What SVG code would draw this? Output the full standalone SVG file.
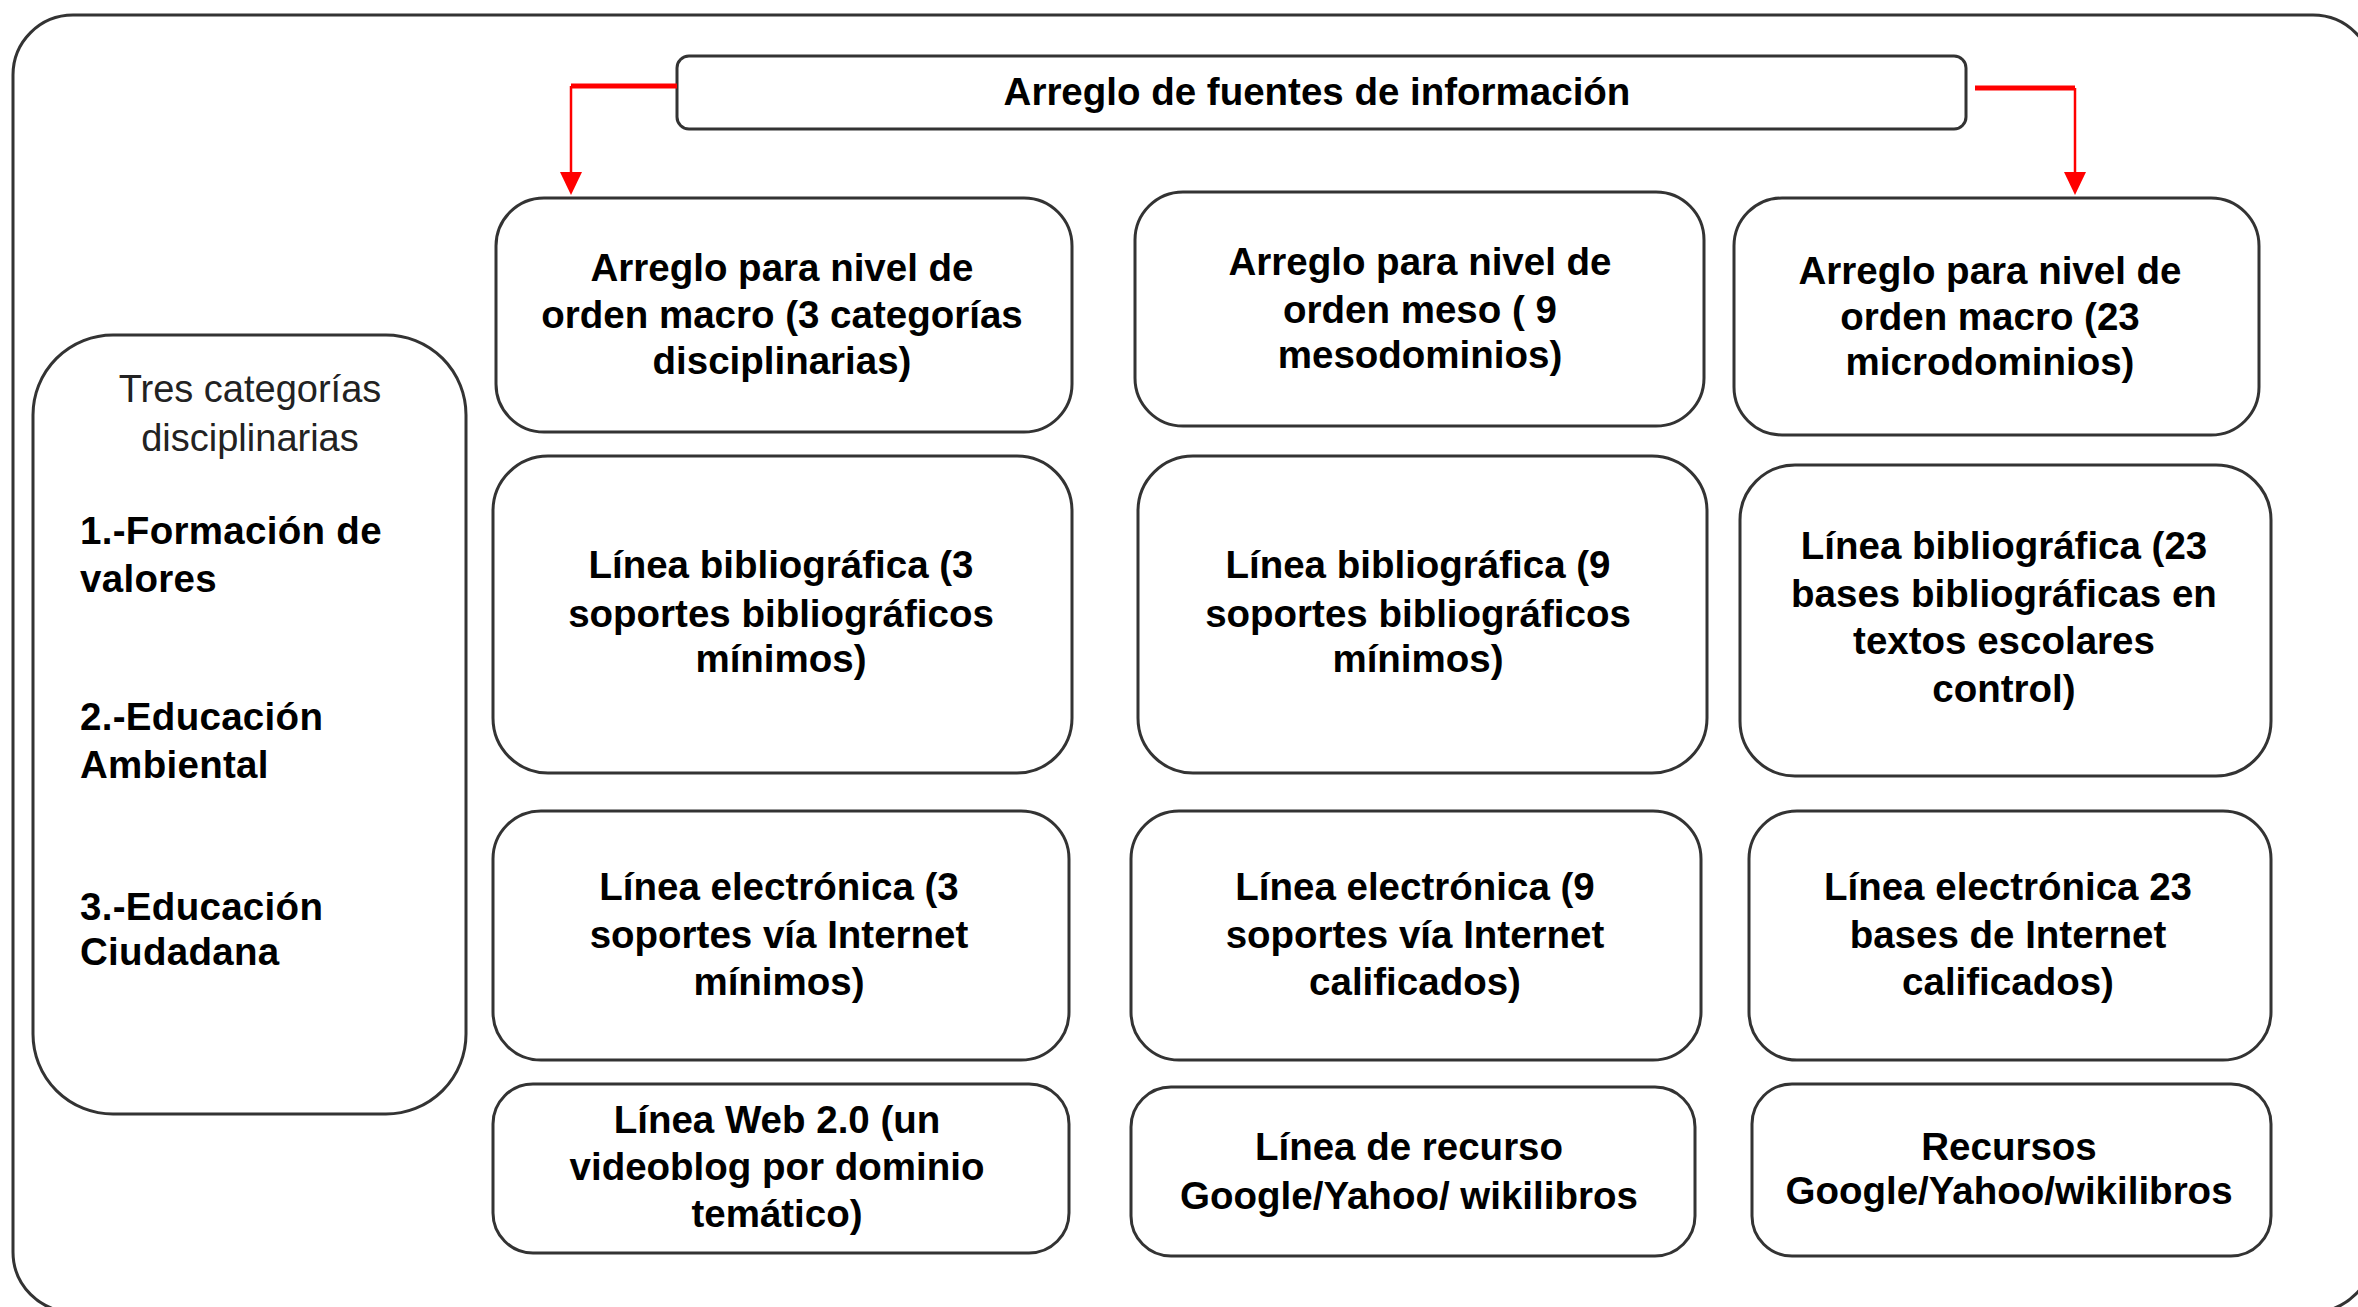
<svg xmlns="http://www.w3.org/2000/svg" width="2358" height="1307" viewBox="0 0 2358 1307">
<style>
.frame{fill:#fff;stroke:#333;stroke-width:3}
.box{fill:#fff;stroke:#333;stroke-width:3}
.t{font-family:"Liberation Sans",Arial,sans-serif;font-weight:bold;font-size:38.5px;fill:#000;text-anchor:middle}
.l{font-family:"Liberation Sans",Arial,sans-serif;font-weight:bold;font-size:38.5px;fill:#000;letter-spacing:0.3px}
.r{font-family:"Liberation Sans",Arial,sans-serif;font-size:38px;fill:#222;text-anchor:middle}
.ch{fill:none;stroke:#f00;stroke-width:5}
.cv{fill:none;stroke:#f00;stroke-width:2.5}
</style>
<defs>
<marker id="ah" viewBox="0 0 10 10" refX="10" refY="5" markerWidth="8" markerHeight="8" markerUnits="userSpaceOnUse" orient="auto">
<path d="M0,0 L10,5 L0,10 z" fill="#f00"/>
</marker>
</defs>
<rect class="frame" x="13" y="15" width="2360" height="1297" rx="60"/>

<g id="title">
<rect class="box" x="677" y="56" width="1289" height="73" rx="12"/>
<text class="t" x="1317" y="105">Arreglo de fuentes de información</text>
</g>

<g id="connectors">
<polyline class="ch" points="677,86 571,86"/>
<path d="M571,86 L571,173" class="cv"/>
<path d="M560,172 L582,172 L571,195 z" fill="#f00"/>
<polyline class="ch" points="1975,88 2075,88"/>
<path d="M2075,88 L2075,173" class="cv"/>
<path d="M2064,172 L2086,172 L2075,195 z" fill="#f00"/>
</g>

<g id="categorias">
<rect class="box" x="33" y="335" width="433" height="779" rx="80"/>
<text class="r" x="250" y="402">Tres categorías</text>
<text class="r" x="250" y="451">disciplinarias</text>
<text class="l" x="80" y="544">1.-Formación de</text>
<text class="l" x="80" y="592">valores</text>
<text class="l" x="80" y="730">2.-Educación</text>
<text class="l" x="80" y="778">Ambiental</text>
<text class="l" x="80" y="920">3.-Educación</text>
<text class="l" x="80" y="965">Ciudadana</text>
</g>

<g id="a1">
<rect class="box" x="496" y="198" width="576" height="234" rx="48"/>
<text class="t" x="782" y="281">Arreglo para nivel de</text>
<text class="t" x="782" y="328">orden macro (3 categorías</text>
<text class="t" x="782" y="374">disciplinarias)</text>
</g>
<g id="b1">
<rect class="box" x="1135" y="192" width="569" height="234" rx="48"/>
<text class="t" x="1420" y="275">Arreglo para nivel de</text>
<text class="t" x="1420" y="323">orden meso ( 9</text>
<text class="t" x="1420" y="368">mesodominios)</text>
</g>
<g id="c1">
<rect class="box" x="1734" y="198" width="525" height="237" rx="48"/>
<text class="t" x="1990" y="284">Arreglo para nivel de</text>
<text class="t" x="1990" y="330">orden macro (23</text>
<text class="t" x="1990" y="375">microdominios)</text>
</g>

<g id="a2">
<rect class="box" x="493" y="456" width="579" height="317" rx="55"/>
<text class="t" x="781" y="578">Línea bibliográfica (3</text>
<text class="t" x="781" y="627">soportes bibliográficos</text>
<text class="t" x="781" y="672">mínimos)</text>
</g>
<g id="b2">
<rect class="box" x="1138" y="456" width="569" height="317" rx="55"/>
<text class="t" x="1418" y="578">Línea bibliográfica (9</text>
<text class="t" x="1418" y="627">soportes bibliográficos</text>
<text class="t" x="1418" y="672">mínimos)</text>
</g>
<g id="c2">
<rect class="box" x="1740" y="465" width="531" height="311" rx="55"/>
<text class="t" x="2004" y="559">Línea bibliográfica (23</text>
<text class="t" x="2004" y="607">bases bibliográficas en</text>
<text class="t" x="2004" y="654">textos escolares</text>
<text class="t" x="2004" y="702">control)</text>
</g>

<g id="a3">
<rect class="box" x="493" y="811" width="576" height="249" rx="48"/>
<text class="t" x="779" y="900">Línea electrónica (3</text>
<text class="t" x="779" y="948">soportes vía Internet</text>
<text class="t" x="779" y="995">mínimos)</text>
</g>
<g id="b3">
<rect class="box" x="1131" y="811" width="570" height="249" rx="48"/>
<text class="t" x="1415" y="900">Línea electrónica (9</text>
<text class="t" x="1415" y="948">soportes vía Internet</text>
<text class="t" x="1415" y="995">calificados)</text>
</g>
<g id="c3">
<rect class="box" x="1749" y="811" width="522" height="249" rx="48"/>
<text class="t" x="2008" y="900">Línea electrónica 23</text>
<text class="t" x="2008" y="948">bases de Internet</text>
<text class="t" x="2008" y="995">calificados)</text>
</g>

<g id="a4">
<rect class="box" x="493" y="1084" width="576" height="169" rx="40"/>
<text class="t" x="777" y="1133">Línea Web 2.0  (un</text>
<text class="t" x="777" y="1180">videoblog por dominio</text>
<text class="t" x="777" y="1227">temático)</text>
</g>
<g id="b4">
<rect class="box" x="1131" y="1087" width="564" height="169" rx="40"/>
<text class="t" x="1409" y="1160">Línea de recurso</text>
<text class="t" x="1409" y="1209">Google/Yahoo/ wikilibros</text>
</g>
<g id="c4">
<rect class="box" x="1752" y="1084" width="519" height="172" rx="40"/>
<text class="t" x="2009" y="1160">Recursos</text>
<text class="t" x="2009" y="1204">Google/Yahoo/wikilibros</text>
</g>
</svg>
